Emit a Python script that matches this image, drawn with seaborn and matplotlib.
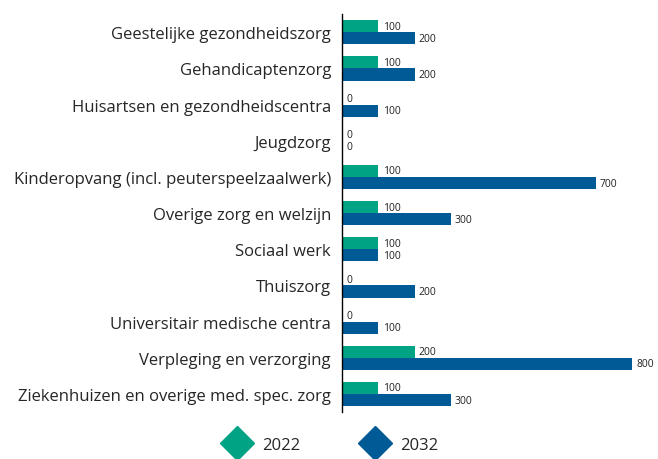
import pandas as pd
import matplotlib.pyplot as plt
import seaborn as sns
from matplotlib.lines import Line2D

categories = [
    "Geestelijke gezondheidszorg",
    "Gehandicaptenzorg",
    "Huisartsen en gezondheidscentra",
    "Jeugdzorg",
    "Kinderopvang (incl. peuterspeelzaalwerk)",
    "Overige zorg en welzijn",
    "Sociaal werk",
    "Thuiszorg",
    "Universitair medische centra",
    "Verpleging en verzorging",
    "Ziekenhuizen en overige med. spec. zorg",
]
values_2022 = [100, 100, 0, 0, 100, 100, 100, 0, 0, 200, 100]
values_2032 = [200, 200, 100, 0, 700, 300, 100, 200, 100, 800, 300]
years = ["2022", "2032"]
colors = ["#00A383", "#005A96"]

df = pd.DataFrame({
    "categorie": categories * 2,
    "waarde": values_2022 + values_2032,
    "jaar": [years[0]] * len(categories) + [years[1]] * len(categories),
})

sns.set_style("white")
plt.rcParams["font.family"] = ["Open Sans", "DejaVu Sans"]

fig = plt.figure(figsize=(6.58, 4.60), dpi=100)
ax = fig.add_axes([0.52, 0.102, 0.48, 0.865])

sns.barplot(data=df, y="categorie", x="waarde", hue="jaar", order=categories,
            hue_order=years, palette=colors, width=0.67, orient="h",
            saturation=1, linewidth=0, ax=ax, legend=False)

for cont in ax.containers:
    ax.bar_label(cont, fmt="%d", padding=3, fontsize=7.5, color="#222222")

# a bit of room on the right so the longest label stays readable
ax.set_xlim(0, 872)
ax.set_ylim(len(categories) - 0.5, -0.5)
ax.set_xlabel("")
ax.set_ylabel("")
ax.set_xticks([])
ax.tick_params(axis="y", length=0, labelsize=12, pad=8)
for s in ["top", "right", "bottom"]:
    ax.spines[s].set_visible(False)
ax.spines["left"].set_color("black")
ax.spines["left"].set_linewidth(1.0)

handles = [Line2D([], [], marker="D", linestyle="", markersize=17,
                  markerfacecolor=c, markeredgecolor=c) for c in colors]
fig.legend(handles, years, loc="center", bbox_to_anchor=(0.5, 0.03), ncol=2,
           frameon=False, fontsize=12, handletextpad=0.5, columnspacing=3.5)

fig.savefig("out.png", dpi=100)
